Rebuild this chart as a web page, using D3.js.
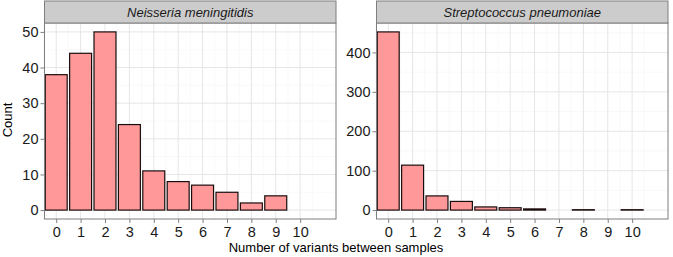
<!doctype html>
<html>
<head>
<meta charset="utf-8">
<title>variants histogram</title>
<script src="https://d3js.org/d3.v7.min.js"></script>
<style>
  body { margin: 0; background: #fff; }
  text { font-family: "Liberation Sans", Arial, sans-serif; }
</style>
</head>
<body>
<svg id="chart"></svg>
<script>
var W = 673, H = 257;

// data
var variants = [0, 1, 2, 3, 4, 5, 6, 7, 8, 9, 10];
var neisseria = [38, 44, 50, 24, 11, 8, 7, 5, 2, 4, 0];
var strepto = [452, 114, 36, 22, 8, 6, 3, 0, 1, 0, 1];
var panelTitles = ["Neisseria meningitidis", "Streptococcus pneumoniae"];
var yTicksN = [0, 10, 20, 30, 40, 50];
var yTicksS = [0, 100, 200, 300, 400];

var panels = [
  { title: panelTitles[0], values: neisseria, ticks: yTicksN, minor: [5, 15, 25, 35, 45], x0: 44.5, x1: 336 },
  { title: panelTitles[1], values: strepto, ticks: yTicksS, minor: [50, 150, 250, 350, 450], x0: 376.5, x1: 668 }
];

var stripTop = 1, stripBot = 23, panelBot = 219;

var svg = d3.select('#chart').attr('width', W).attr('height', H);

panels.forEach(function(p) {
  var maxV = d3.max(p.values);
  var pad = maxV * 0.05;
  var x = d3.scaleLinear().domain([-0.48, 11.47]).range([p.x0, p.x1]);
  var y = d3.scaleLinear().domain([-pad, maxV + pad]).range([panelBot, stripBot]);
  var g = svg.append('g');

  g.append('rect').attr('x', p.x0).attr('y', stripBot)
    .attr('width', p.x1 - p.x0).attr('height', panelBot - stripBot)
    .attr('fill', '#fff');

  // minor grid
  var xMinor = d3.range(-0.5, 11.5, 1);
  g.selectAll('.xminor').data(xMinor).enter().append('line')
    .attr('x1', function(d) { return x(d); }).attr('x2', function(d) { return x(d); })
    .attr('y1', stripBot).attr('y2', panelBot)
    .attr('stroke', '#f5f5f5').attr('stroke-width', 0.6);
  g.selectAll('.yminor').data(p.minor).enter().append('line')
    .attr('x1', p.x0).attr('x2', p.x1)
    .attr('y1', function(d) { return y(d); }).attr('y2', function(d) { return y(d); })
    .attr('stroke', '#f5f5f5').attr('stroke-width', 0.6);

  // major grid
  g.selectAll('.xmajor').data(variants).enter().append('line')
    .attr('x1', function(d) { return x(d); }).attr('x2', function(d) { return x(d); })
    .attr('y1', stripBot).attr('y2', panelBot)
    .attr('stroke', '#e6e6e6').attr('stroke-width', 1);
  g.selectAll('.ymajor').data(p.ticks).enter().append('line')
    .attr('x1', p.x0).attr('x2', p.x1)
    .attr('y1', function(d) { return y(d); }).attr('y2', function(d) { return y(d); })
    .attr('stroke', '#e6e6e6').attr('stroke-width', 1);

  // bars
  var data = variants.map(function(v, i) { return { v: v, n: p.values[i] }; })
    .filter(function(d) { return d.n > 0; });
  g.selectAll('.bar').data(data).enter().append('rect')
    .attr('x', function(d) { return x(d.v - 0.45); })
    .attr('width', function(d) { return x(d.v + 0.45) - x(d.v - 0.45); })
    .attr('y', function(d) { return y(d.n); })
    .attr('height', function(d) { return y(0) - y(d.n); })
    .attr('fill', '#ff9999')
    .attr('stroke', '#1a0d0d').attr('stroke-width', 1.2);

  // panel border
  g.append('rect').attr('x', p.x0).attr('y', stripBot)
    .attr('width', p.x1 - p.x0).attr('height', panelBot - stripBot)
    .attr('fill', 'none').attr('stroke', '#7f7f7f').attr('stroke-width', 1);

  // strip
  g.append('rect').attr('x', p.x0).attr('y', stripTop)
    .attr('width', p.x1 - p.x0).attr('height', stripBot - stripTop)
    .attr('fill', '#cccccc').attr('stroke', '#7f7f7f').attr('stroke-width', 1);
  g.append('text').attr('x', (p.x0 + p.x1) / 2).attr('y', 17)
    .attr('text-anchor', 'middle').attr('font-size', 13).attr('font-style', 'italic')
    .attr('fill', '#1a1a1a').text(p.title);

  // axes
  var ya = d3.axisLeft(y).tickValues(p.ticks).tickSize(4).tickPadding(2);
  var yg = g.append('g').attr('transform', 'translate(' + p.x0 + ',0)').call(ya);
  var xa = d3.axisBottom(x).tickValues(variants).tickSize(4).tickPadding(4);
  var xg = g.append('g').attr('transform', 'translate(0,' + panelBot + ')').call(xa);
  [yg, xg].forEach(function(a) {
    a.select('.domain').remove();
    a.selectAll('line').attr('stroke', '#7f7f7f');
    a.selectAll('text').attr('font-size', 14.5).attr('fill', '#1a1a1a')
      .attr('font-family', '"Liberation Sans", Arial, sans-serif');
  });
});

svg.append('text').attr('x', 336).attr('y', 252).attr('text-anchor', 'middle')
  .attr('font-size', 13).attr('fill', '#000').text('Number of variants between samples');
svg.append('text').attr('transform', 'translate(12,120) rotate(-90)')
  .attr('text-anchor', 'middle').attr('font-size', 13).attr('fill', '#000').text('Count');
</script>
</body>
</html>
